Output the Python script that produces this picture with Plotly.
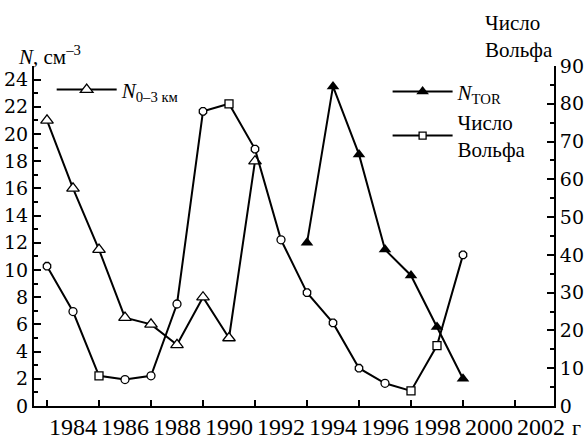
import plotly.graph_objects as go

# ---- data ----
years = list(range(1983, 2000))
years_n03 = years[:9]
n_03km = [21, 16, 11.5, 6.5, 6, 4.5, 8, 5, 18]
years_tor = years[10:]
n_tor = [12, 23.5, 18.5, 11.5, 9.6, 5.8, 2]
wolf = [37, 25, 8, 7, 8, 27, 78, 80, 68, 44, 30, 22, 10, 6, 4, 16, 40]
xtick_years = list(range(1984, 2003, 2))
xtick_labels = [str(v) for v in xtick_years]
ytick_left = list(range(0, 25, 2))
ytick_right = list(range(0, 91, 10))

wolf_symbols = ["octagon", "circle", "square", "circle", "circle", "circle",
                "octagon", "square", "octagon", "circle", "octagon", "octagon",
                "octagon", "circle", "square", "square", "octagon"]

TIMES = "Liberation Serif, Times New Roman, serif"
WIDE = "DejaVu Serif"
BLACK = "black"

fig = go.Figure()

fig.add_trace(go.Scatter(
    x=years_n03, y=n_03km, mode="lines+markers",
    name="<i>N</i><sub>0–3 км</sub>",
    line=dict(color=BLACK, width=2),
    marker=dict(symbol="triangle-up", size=11, color="white",
                line=dict(color=BLACK, width=1.3)),
    legend="legend", yaxis="y", xaxis="x"))

fig.add_trace(go.Scatter(
    x=years, y=wolf, mode="lines+markers", showlegend=False,
    line=dict(color=BLACK, width=2),
    marker=dict(symbol=wolf_symbols, size=8, color="white",
                line=dict(color=BLACK, width=1.3)),
    yaxis="y2", xaxis="x"))

fig.add_trace(go.Scatter(
    x=years_tor, y=n_tor, mode="lines+markers",
    name="<i>N</i><sub>TOR</sub>",
    line=dict(color=BLACK, width=2),
    marker=dict(symbol="triangle-up", size=11, color=BLACK),
    legend="legend2", yaxis="y", xaxis="x"))

# legend entry for the Wolf series
fig.add_trace(go.Scatter(
    x=[None], y=[None], mode="lines+markers",
    name="Число<br>Вольфа",
    line=dict(color=BLACK, width=2),
    marker=dict(symbol="square", size=7, color="white",
                line=dict(color=BLACK, width=1.3)),
    legend="legend2", yaxis="y2", xaxis="x"))

axis_common = dict(showgrid=False, zeroline=False, showline=True,
                   linecolor=BLACK, linewidth=2, tickcolor=BLACK,
                   automargin=False)

fig.update_layout(
    width=587, height=435,
    margin=dict(l=34, r=33, t=66, b=29),
    paper_bgcolor="white", plot_bgcolor="white",
    font=dict(family=TIMES, size=21, color=BLACK),
    xaxis=dict(range=[1982.5, 2002.5], tickmode="array",
               tickvals=xtick_years, ticktext=xtick_labels, ticks="",
               ticklabelstandoff=-2,
               tickfont=dict(family=TIMES, size=24, color=BLACK),
               minor=dict(tickmode="array", tickvals=years[::2] + [2001],
                          ticks="inside", ticklen=6, tickwidth=1.5,
                          tickcolor=BLACK),
               **axis_common),
    xaxis2=dict(range=[1982.5, 2002.5], overlaying="x", side="top",
                anchor="y", tickmode="linear", tick0=1983, dtick=1,
                ticks="inside", ticklen=6, tickwidth=1.5,
                showticklabels=False, **axis_common),
    yaxis=dict(range=[0, 25], tickmode="array", tickvals=ytick_left,
               ticks="inside", ticklen=7, tickwidth=1.5,
               ticklabelstandoff=0,
               tickfont=dict(family=WIDE, size=19, color=BLACK),
               minor=dict(dtick=1, tick0=0, ticks="inside", ticklen=4,
                          tickwidth=1.5, tickcolor=BLACK),
               **axis_common),
    yaxis2=dict(range=[0, 90], overlaying="y", side="right", anchor="x",
                tickmode="array", tickvals=ytick_right,
                ticks="inside", ticklen=7, tickwidth=1.5,
                ticklabelstandoff=0,
                tickfont=dict(family=WIDE, size=19, color=BLACK),
                minor=dict(dtick=5, tick0=0, ticks="inside", ticklen=4,
                           tickwidth=1.5, tickcolor=BLACK),
                **axis_common),
    legend=dict(x=0.034, y=0.99, xanchor="left", yanchor="top",
                bgcolor="rgba(0,0,0,0)", itemwidth=60,
                font=dict(family=TIMES, size=21)),
    legend2=dict(x=0.68, y=0.984, xanchor="left", yanchor="top",
                 bgcolor="rgba(0,0,0,0)", itemwidth=60,
                 font=dict(family=TIMES, size=21)),
    annotations=[
        dict(text="<i>N</i>, см<sup>–3</sup>", xref="paper", yref="paper",
             x=-0.035, y=0.985, xanchor="left", yanchor="bottom",
             showarrow=False, font=dict(family=TIMES, size=21)),
        dict(text="Число<br>Вольфа", xref="paper", yref="paper",
             x=0.863, y=1.005, xanchor="left", yanchor="bottom",
             showarrow=False, align="left",
             font=dict(family=TIMES, size=21)),
        dict(text="г", xref="paper", yref="paper",
             x=1.044, y=-0.062, xanchor="center", yanchor="middle",
             showarrow=False, font=dict(family=TIMES, size=22)),
    ],
)

fig.write_html("out.html",
               config={"displayModeBar": False},
               post_script="document.body.style.margin='0';"
                           "document.body.style.padding='0';")
